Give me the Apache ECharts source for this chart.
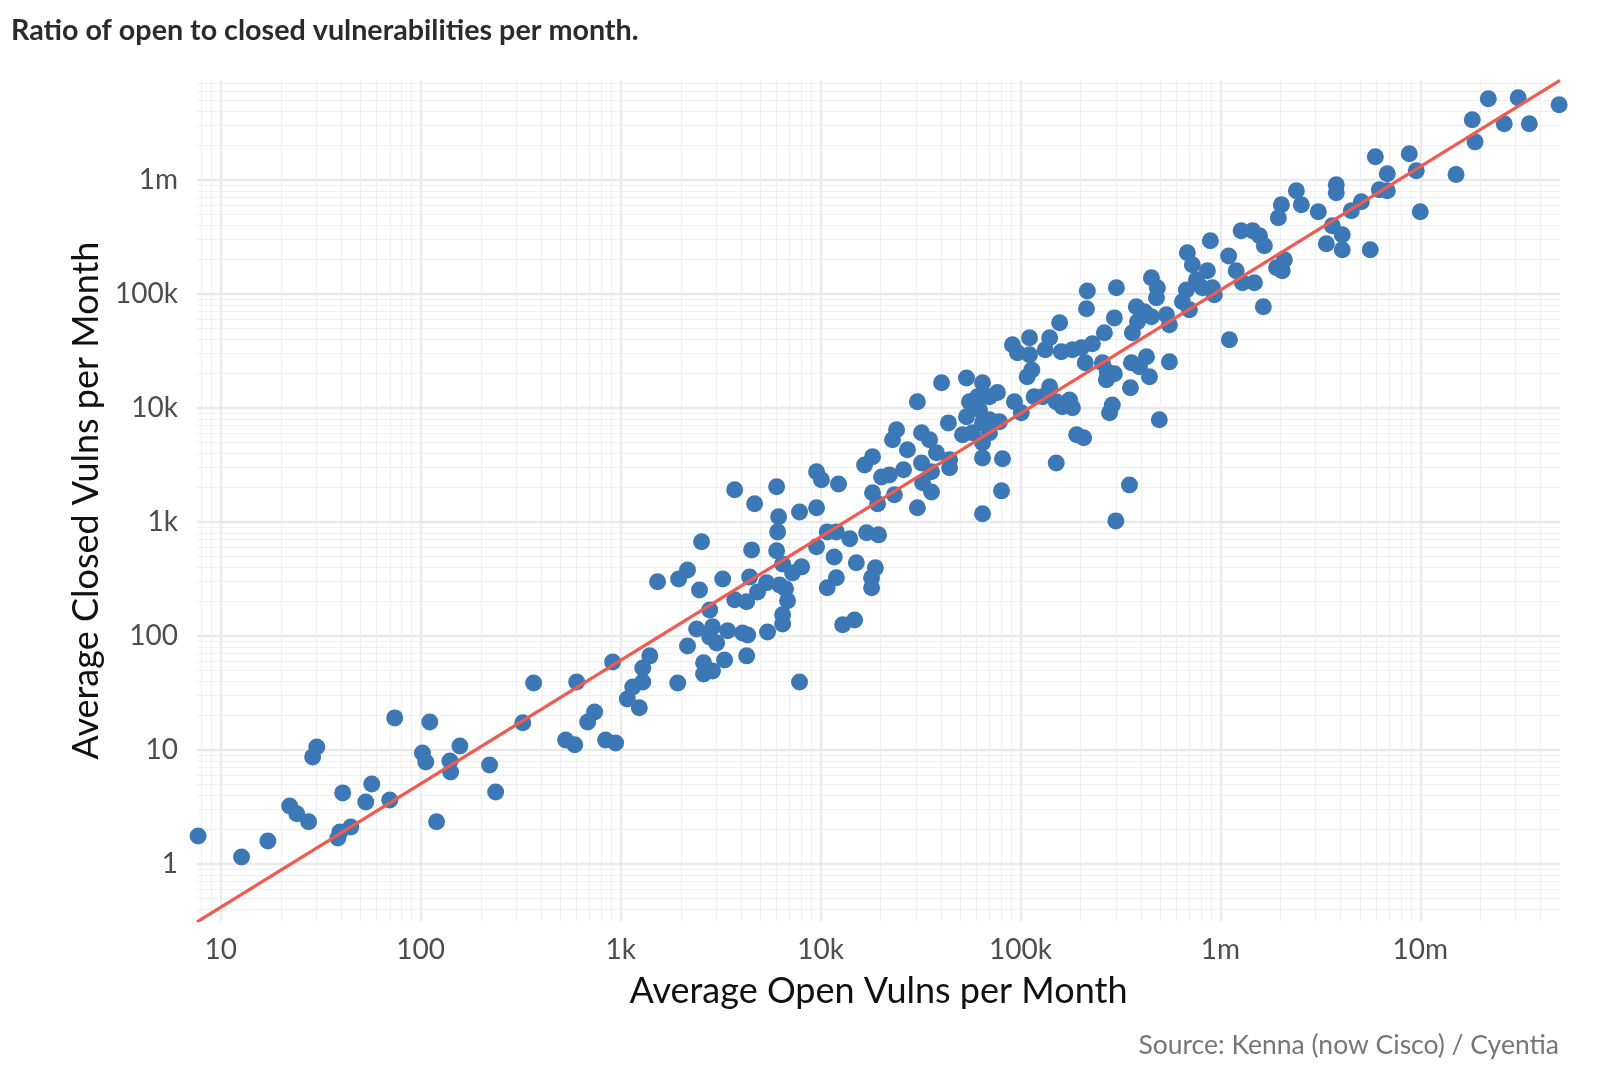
<!DOCTYPE html>
<html>
<head>
<meta charset="utf-8">
<title>Ratio of open to closed vulnerabilities per month</title>
<script src="https://cdn.jsdelivr.net/npm/echarts@6/dist/echarts.min.js"></script>
<style>
  html, body { margin: 0; padding: 0; background: #fff; }
  #chart { width: 1600px; height: 1073px; }
</style>
</head>
<body>
<div id="chart"></div>
<script>
// average open vulns per month (x), one entry per organisation
var openVulns = [
    7.7, 12.7, 17.2, 22.1, 24.0, 27.5, 28.8, 30.2, 40.7, 38.5, 39.4, 44.7, 53.1, 56.9, 70.0, 74.1,
    102, 106, 111, 120, 140, 141, 157, 221, 237,
    324, 367, 603, 741, 684, 531, 589, 841, 944, 912, 1400, 1290, 1290, 1150, 1080, 1240, 1930,
    2160, 2400, 2600, 2600, 2880, 2790, 3020, 3310, 4270, 2880, 3430, 4070, 4320, 5430, 6460, 7850,
    2160, 1950, 1530,
    53700, 40300, 64600, 30500, 55600, 61000, 62400, 53700, 43600, 64600, 24000, 22900, 32000, 35100,
    51300, 57500, 27200, 38000, 64600, 18200, 16600, 64600, 32000, 44200, 44200, 26000, 35900, 22100,
    20200, 9550, 10100, 12300, 32400, 18200, 23400, 35900, 3720, 6030, 4680, 19300, 30500, 64600,
    7850, 9550, 6170, 6100, 10800, 12000, 14000, 17000, 19500, 2540, 4520, 6030, 9550, 11700, 6460,
    8040, 7240, 15100, 18800, 18000, 18000, 12000, 10800, 4420, 3240, 2480, 5370, 6240, 6680, 4840,
    3720, 4270, 6840, 2790, 6460, 14800, 12900,
    76700, 70000, 70000, 78500, 70000, 93300, 101000, 117000, 140000, 129000, 151000, 176000, 182000,
    162000, 288000, 279000, 495000, 191000, 207000, 81300, 151000, 80400, 351000, 300000,
    759000, 676000, 684000, 724000, 646000, 700000, 452000, 484000, 479000, 537000, 556000, 380000,
    417000, 452000, 385000, 363000, 302000, 295000, 216000, 214000, 157000, 263000, 229000, 202000,
    182000, 160000, 140000, 133000, 111000, 91200, 96600, 111000, 211000, 257000, 272000, 295000,
    269000, 114000, 108000, 359000, 394000, 427000, 556000, 442000, 355000,
    21.9e6, 30.9e6, 49.5e6, 18.2e6, 26.3e6, 35.1e6, 18.8e6, 8.81e6, 9.55e6, 5.96e6, 6.84e6, 15.1e6,
    6.24e6, 6.84e6, 3.80e6, 3.80e6, 5.07e6, 4.52e6, 10.0e6, 2.40e6, 2.54e6, 2.02e6, 1.95e6, 3.09e6,
    3.63e6, 4.07e6, 3.39e6, 4.07e6, 5.62e6, 1.27e6, 1.45e6, 1.57e6, 1.66e6, 891000, 1.10e6, 2.09e6,
    1.91e6, 2.04e6, 1.20e6, 1.29e6, 1.48e6, 861000, 813000, 912000, 933000, 1.64e6, 1.11e6
];
// average closed vulns per month (y), same order
var closedVulns = [
    1.76, 1.15, 1.59, 3.23, 2.75, 2.34, 8.69, 10.6, 4.2, 1.69, 1.91, 2.11, 3.50, 5.03, 3.64, 19.1,
    9.41, 7.85, 17.6, 2.34, 8.01, 6.41, 10.8, 7.38, 4.28,
    17.3, 38.7, 39.5, 21.5, 17.6, 12.2, 11.1, 12.2, 11.5, 59.1, 66.8, 52.4, 39.5, 35.7, 28.0, 23.4, 38.7,
    81.7, 115, 58.0, 46.4, 49.3, 98.0, 86.8, 61.6, 66.8, 120, 111, 106, 102, 108, 127, 39.5,
    379, 316, 298,
    18300, 16600, 16600, 11300, 11300, 12500, 9600, 8340, 7380, 7380, 6410, 5240, 6040, 5240,
    5800, 6040, 4280, 4030, 4930, 3720, 3160, 3640, 3290, 3500, 2980, 2860, 2750, 2580,
    2480, 2750, 2340, 2150, 2200, 1800, 1730, 1830, 1910, 2030, 1440, 1440, 1330, 1180,
    1220, 1330, 1110, 817, 817, 817, 710, 801, 769, 668, 568, 557, 604, 493, 428,
    403, 357, 437, 395, 323, 264, 323, 264, 329, 316, 253, 292, 280, 259, 243,
    207, 199, 203, 169, 153, 138, 125,
    13600, 12500, 7850, 7540, 6040, 11300, 9040, 12500, 15300, 12500, 11300, 11700, 10000,
    10200, 10600, 9040, 7850, 5800, 5460, 3570, 3290, 1870, 2110, 1020,
    133000, 108000, 229000, 180000, 85100, 72400, 138000, 113000, 92300, 65500, 53500, 76900,
    69500, 62800, 56800, 45500, 113000, 61500, 106000, 73800, 55700, 45500, 36400, 33600,
    32300, 31000, 41100, 32300, 41100, 35700, 30400, 29200, 24800, 24800, 20700, 19900,
    17600, 21500, 18700, 24800, 22900, 28000, 25300, 18700, 15000,
    5.14e6, 5.24e6, 4.55e6, 3.36e6, 3.10e6, 3.10e6, 2.15e6, 1.69e6, 1.20e6, 1.59e6, 1.13e6, 1.11e6,
    817000, 801000, 904000, 769000, 641000, 535000, 524000, 801000, 604000, 604000, 464000, 524000,
    395000, 329000, 275000, 243000, 243000, 357000, 357000, 323000, 264000, 292000, 215000, 199000,
    169000, 159000, 159000, 125000, 125000, 159000, 113000, 113000, 98000, 76900, 39500
];
// fitted line end points (open, closed)
var fitOpen = [7.6, 5.0e7];
var fitClosed = [0.31, 7.45e6];
// axis breaks
var tickValues = [1, 10, 100, 1000, 1e4, 1e5, 1e6, 1e7];
var tickLabels = ['1', '10', '100', '1k', '10k', '100k', '1m', '10m'];

var xMin = 7.6, xMax = 5.0e7;
var yMin = 0.316, yMax = 7.5e6;

function fmtTick(v) {
    for (var i = 0; i < tickValues.length; i++) {
        if (Math.abs(tickValues[i] - v) / tickValues[i] < 1e-6) return tickLabels[i];
    }
    return '';
}

// minor grid at 2..9 of every decade inside the range
function minorLines(lo, hi, key) {
    var out = [];
    for (var e = -1; e <= 8; e++) {
        for (var d = 2; d <= 9; d++) {
            var v = d * Math.pow(10, e);
            if (v > lo * 1.0001 && v < hi * 0.9999) {
                var o = {};
                o[key] = v;
                out.push(o);
            }
        }
    }
    return out;
}

var points = openVulns.map(function (v, i) { return [v, closedVulns[i]]; });
var fitLine = fitOpen.map(function (v, i) { return [v, fitClosed[i]]; });

var chartDom = document.getElementById('chart');
var myChart = echarts.init(chartDom, null, { renderer: 'canvas' });
var font = 'Lato, "Noto Sans", sans-serif';
var option = {
    animation: false,
    backgroundColor: '#fff',
    textStyle: { fontFamily: font },
    title: [
        {
            text: 'Ratio of open to closed vulnerabilities per month.',
            left: 6,
            top: 11,
            textStyle: { fontFamily: font, fontWeight: 'bold', fontSize: 28.7, color: '#2b2b2b' }
        },
        {
            text: 'Source: Kenna (now Cisco) / Cyentia',
            right: 36,
            top: 1027,
            textStyle: { fontFamily: font, fontWeight: 'normal', fontSize: 26.5, color: '#777' }
        }
    ],
    grid: { left: 197, right: 40, top: 80, bottom: 152, containLabel: false },
    xAxis: {
        type: 'log',
        logBase: 10,
        min: xMin,
        max: xMax,
        name: 'Average Open Vulns per Month',
        nameLocation: 'middle',
        nameGap: 52,
        nameTextStyle: { fontFamily: font, fontSize: 36, color: '#111' },
        axisLine: { show: false },
        axisTick: { show: false },
        axisLabel: { formatter: fmtTick, fontSize: 28, color: '#4d4d4d', margin: 15, fontFamily: font },
        splitLine: { show: true, showMinLine: false, showMaxLine: false, lineStyle: { color: '#e9e9ee', width: 2.4 } }
    },
    yAxis: {
        type: 'log',
        logBase: 10,
        min: yMin,
        max: yMax,
        name: 'Average Closed Vulns per Month',
        nameLocation: 'middle',
        nameGap: 88,
        nameTextStyle: { fontFamily: font, fontSize: 36, color: '#111' },
        axisLine: { show: false },
        axisTick: { show: false },
        axisLabel: { formatter: fmtTick, fontSize: 28, color: '#4d4d4d', margin: 19, fontFamily: font },
        splitLine: { show: true, showMinLine: false, showMaxLine: false, lineStyle: { color: '#e9e9ee', width: 2.4 } }
    },
    series: [
        {
            // minor grid only
            type: 'line',
            data: [],
            silent: true,
            z: 1,
            markLine: {
                z: 1,
                silent: true,
                symbol: 'none',
                animation: false,
                label: { show: false },
                lineStyle: { color: '#f0f0f4', width: 1.2, type: 'solid' },
                emphasis: { disabled: true },
                data: minorLines(xMin, xMax, 'xAxis').concat(minorLines(yMin, yMax, 'yAxis'))
            }
        },
        {
            type: 'scatter',
            data: points,
            symbolSize: 17,
            z: 3,
            itemStyle: { color: '#3b78b5', opacity: 1 }
        },
        {
            type: 'line',
            data: fitLine,
            showSymbol: false,
            silent: true,
            z: 4,
            lineStyle: { color: '#ef5b50', width: 3.2 }
        }
    ]
};
option && myChart.setOption(option);
</script>
</body>
</html>
